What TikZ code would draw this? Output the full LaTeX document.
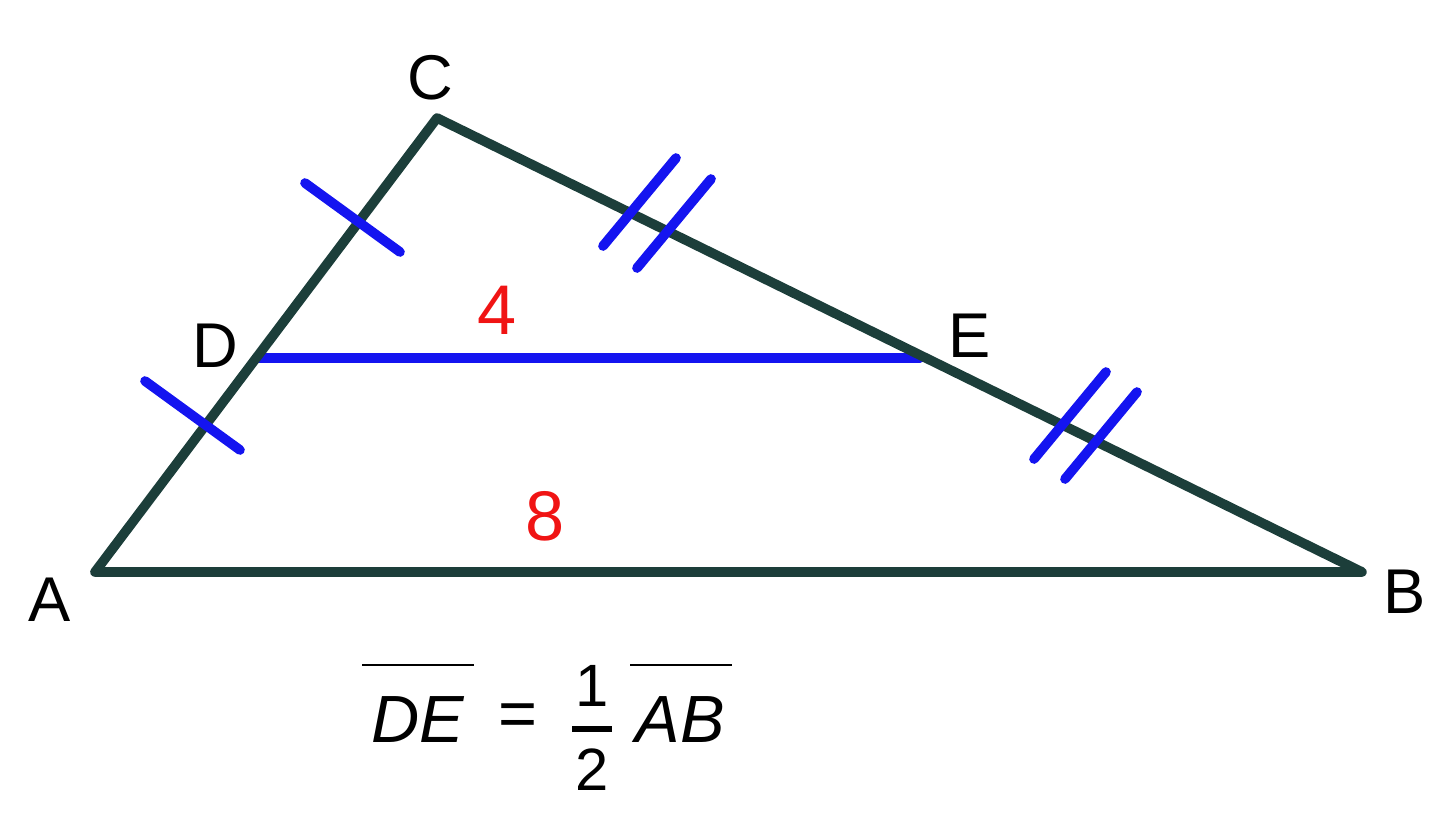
\documentclass[tikz,border=0pt]{standalone}
\usepackage{fontspec}
\setmainfont{Liberation Sans}
\begin{document}
\begin{tikzpicture}[x=0.02cm,y=-0.02cm,
  side/.style={line width=5.5pt,draw={rgb,255:red,28;green,62;blue,58},line cap=round,line join=round},
  tick/.style={line width=5.5pt,draw={rgb,255:red,20;green,20;blue,240},line cap=round},
  bar/.style={line width=1.2pt,draw=black},
  lab/.style={font=\fontsize{36}{40}\selectfont},
  eqt/.style={font=\fontsize{38}{40}\selectfont\itshape,inner sep=0pt},
  num/.style={font=\fontsize{40}{44}\selectfont,text={rgb,255:red,240;green,20;blue,20}}]
\useasboundingbox (0,0) rectangle (1440,823);
\coordinate (A) at (95,572); \coordinate (B) at (1362,572);
\coordinate (C) at (437,118); \coordinate (D) at (258,358); \coordinate (E) at (920,358);
\draw[tick] (D) -- (E);
\draw[side] (A) -- (B) -- (C) -- cycle;
\coordinate (t1a) at (305,183); \coordinate (t1b) at (400,252);
\coordinate (t2a) at (145,381); \coordinate (t2b) at (240,450);
\draw[tick] (t1a) -- (t1b); \draw[tick] (t2a) -- (t2b);
\coordinate (u1a) at (603,246); \coordinate (u1b) at (676,158);
\coordinate (u2a) at (637,268); \coordinate (u2b) at (711,179);
\coordinate (v1a) at (1034,459); \coordinate (v1b) at (1106,372);
\coordinate (v2a) at (1065,479); \coordinate (v2b) at (1137,392);
\draw[tick] (u1a) -- (u1b); \draw[tick] (u2a) -- (u2b);
\draw[tick] (v1a) -- (v1b); \draw[tick] (v2a) -- (v2b);
\node[lab] (lC) at (430,78) {C};
\node[lab] (lD) at (215,346) {D};
\node[lab] (lE) at (970,336) {E};
\node[lab] (lA) at (50,600) {A};
\node[lab] (lB) at (1405,592) {B};
\node[num] (n4) at (497,310) {4};
\node[num] (n8) at (545,516) {8};
\node[eqt] (de) at (418,720) {DE};
\node[eqt,font=\fontsize{38}{40}\selectfont] (eqs) at (518,720) {=};
\node[eqt,font=\fontsize{34}{36}\selectfont] (one) at (592,686) {1};
\node[eqt,font=\fontsize{34}{36}\selectfont] (two) at (592,770) {2};
\node[eqt] (ab) at (680,720) {AB};
\coordinate (b1) at (362,665); \coordinate (b2) at (474,665);
\coordinate (b3) at (630,665); \coordinate (b4) at (732,665);
\coordinate (f1) at (572,729); \coordinate (f2) at (612,729);
\draw[bar] (b1) -- (b2); \draw[bar] (b3) -- (b4);
\draw[line width=3pt] (f1) -- (f2);
\end{tikzpicture}
\end{document}
